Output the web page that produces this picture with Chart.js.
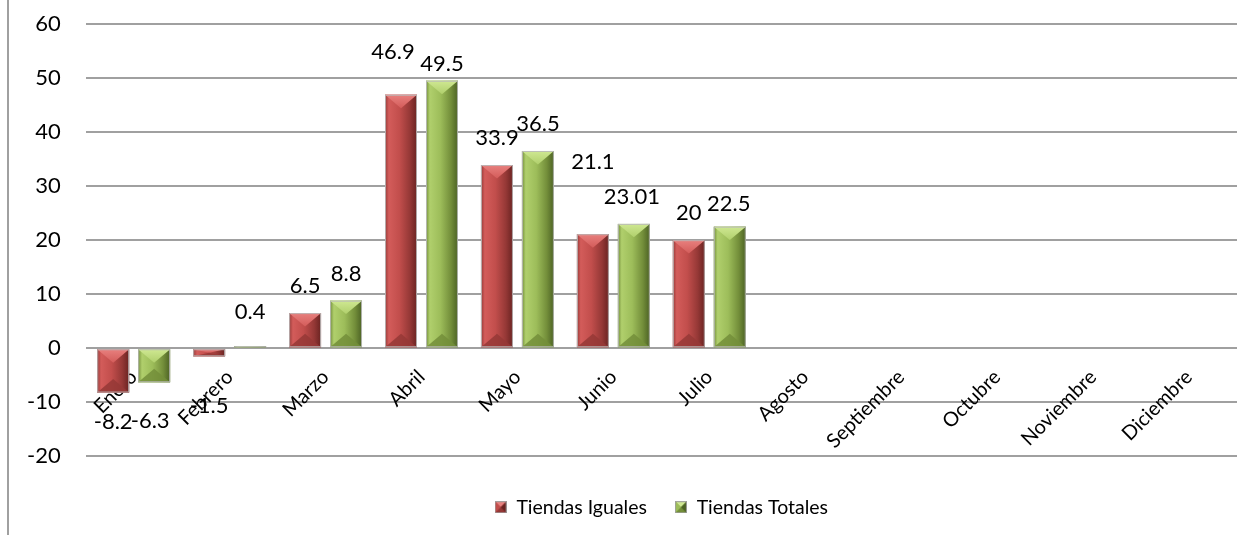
<!DOCTYPE html>
<html>
<head>
<meta charset="utf-8">
<script src="https://cdn.jsdelivr.net/npm/chart.js@4.4.1/dist/chart.umd.min.js"></script>
<style>
  html, body { margin: 0; padding: 0; background: #ffffff; }
  #wrap { position: relative; width: 1237px; height: 535px; }
</style>
</head>
<body>
<div id="wrap"><canvas id="chart"></canvas></div>
<script>
// Monthly growth (%) — same stores vs. total stores
const months = ['Enero', 'Febrero', 'Marzo', 'Abril', 'Mayo', 'Junio', 'Julio',
                'Agosto', 'Septiembre', 'Octubre', 'Noviembre', 'Diciembre'];
const tiendasIguales = [-8.2, -1.5, 6.5, 46.9, 33.9, 21.1, 20, null, null, null, null, null];
const tiendasTotales = [-6.3, 0.4, 8.8, 49.5, 36.5, 23.01, 22.5, null, null, null, null, null];
const yMin = -20;
const yMax = 60;
const yStep = 10;

const FONT = 'Lato, "Open Sans", sans-serif';

// Palette for the bevelled bars
const RED = { face: '#c24e4c', light: '#e8807e', mid: '#d35c5a', dark: '#6a2321', edge: '#953836' };
const GREEN = { face: '#9dbd5a', light: '#cfe892', mid: '#b0cf6c', dark: '#4c6224', edge: '#738e3a' };

function bevelRect(ctx, l, t, r, b, pal) {
  const w = r - l, h = b - t;
  if (w <= 0 || h <= 0) return;
  const cx = (l + r) / 2;
  // face: light on the left, darkening towards the right edge
  const g = ctx.createLinearGradient(l, 0, r, 0);
  g.addColorStop(0, pal.edge);
  g.addColorStop(0.12, pal.mid);
  g.addColorStop(0.45, pal.face);
  g.addColorStop(0.78, pal.edge);
  g.addColorStop(1, pal.dark);
  ctx.fillStyle = g;
  ctx.fillRect(l, t, w, h);
  const d = Math.min(w * 0.42, h / 2);
  // top facet
  ctx.beginPath();
  ctx.moveTo(l, t); ctx.lineTo(r, t); ctx.lineTo(cx, t + d); ctx.closePath();
  const gt = ctx.createLinearGradient(0, t, 0, t + d);
  gt.addColorStop(0, pal.light);
  gt.addColorStop(1, pal.mid);
  ctx.fillStyle = gt;
  ctx.fill();
  // bottom facet
  ctx.beginPath();
  ctx.moveTo(l, b); ctx.lineTo(r, b); ctx.lineTo(cx, b - d); ctx.closePath();
  ctx.fillStyle = pal.edge;
  ctx.globalAlpha = 0.85;
  ctx.fill();
  ctx.globalAlpha = 1;
  // thin light outline
  ctx.strokeStyle = 'rgba(185,185,185,0.9)';
  ctx.lineWidth = 1;
  ctx.strokeRect(l + 0.5, t + 0.5, w - 1, h - 1);
}

function legendIcon(pal) {
  const c = document.createElement('canvas');
  c.width = 12; c.height = 12;
  const x = c.getContext('2d');
  x.fillStyle = pal.edge;
  x.fillRect(0, 0, 12, 12);
  x.beginPath(); x.moveTo(0, 0); x.lineTo(12, 0); x.lineTo(6, 6); x.closePath();
  x.fillStyle = pal.light; x.fill();
  x.beginPath(); x.moveTo(12, 0); x.lineTo(12, 12); x.lineTo(6, 6); x.closePath();
  x.fillStyle = pal.dark; x.fill();
  x.beginPath(); x.moveTo(0, 0); x.lineTo(0, 12); x.lineTo(6, 6); x.closePath();
  x.fillStyle = pal.face; x.fill();
  x.strokeStyle = 'rgba(160,160,160,0.9)';
  x.strokeRect(0.5, 0.5, 11, 11);
  return c;
}

// Replaces the flat bar fill with a bevelled look
const bevelBars = {
  id: 'bevelBars',
  afterDatasetDraw(chart, args) {
    const pal = args.index === 0 ? RED : GREEN;
    const ctx = chart.ctx;
    ctx.save();
    args.meta.data.forEach((bar, i) => {
      if (chart.data.datasets[args.index].data[i] == null) return;
      const p = bar.getProps(['x', 'y', 'base', 'width'], true);
      const l = p.x - p.width / 2, r = p.x + p.width / 2;
      const t = Math.min(p.y, p.base), b = Math.max(p.y, p.base);
      bevelRect(ctx, l, t, r, b, pal);
    });
    ctx.restore();
  }
};

// Value labels above (or below, for negatives) each bar
const valueLabels = {
  id: 'valueLabels',
  afterDatasetsDraw(chart, args, opts) {
    const ctx = chart.ctx;
    ctx.save();
    ctx.font = opts.size + 'px ' + FONT;
    ctx.fillStyle = '#000';
    ctx.textAlign = 'center';
    ctx.textBaseline = 'middle';
    chart.data.datasets.forEach((ds, di) => {
      chart.getDatasetMeta(di).data.forEach((bar, i) => {
        const v = ds.data[i];
        if (v == null) return;
        const p = bar.getProps(['x', 'y', 'base'], true);
        const n = opts.nudges[di + ':' + i] || [0, 0];
        const ly = v >= 0 ? Math.min(p.y, p.base) - opts.above : Math.max(p.y, p.base) + opts.below;
        ctx.fillText(String(v), p.x + n[0], ly + n[1]);
      });
    });
    ctx.restore();
  }
};

// Left frame edge
const frameEdge = {
  id: 'frameEdge',
  beforeDraw(chart) {
    const ctx = chart.ctx;
    ctx.save();
    ctx.strokeStyle = '#a0a0a0';
    ctx.lineWidth = 2;
    ctx.beginPath();
    ctx.moveTo(8, 0);
    ctx.lineTo(8, chart.height);
    ctx.stroke();
    ctx.restore();
  }
};

const icons = [legendIcon(RED), legendIcon(GREEN)];

new Chart(document.getElementById('chart'), {
  type: 'bar',
  data: {
    labels: months,
    datasets: [
      { label: 'Tiendas Iguales', data: tiendasIguales, backgroundColor: RED.face,
        categoryPercentage: 0.854, barPercentage: 0.78 },
      { label: 'Tiendas Totales', data: tiendasTotales, backgroundColor: GREEN.face,
        categoryPercentage: 0.854, barPercentage: 0.78 }
    ]
  },
  options: {
    responsive: true,
    maintainAspectRatio: false,
    animation: false,
    layout: { padding: { left: 2, right: 0, top: 24, bottom: 8 } },
    scales: {
      x: {
        position: { y: 0 },
        z: 1,
        grid: { display: false },
        border: { display: false },
        ticks: {
          autoSkip: false, minRotation: 45, maxRotation: 45,
          color: '#000', padding: 9,
          font: { family: FONT, size: 20 }
        }
      },
      y: {
        min: yMin, max: yMax,
        grid: { color: '#a0a0a0', lineWidth: 2, drawTicks: false },
        border: { display: false },
        afterFit(scale) {
          // tick labels may overhang the plot edges
          scale.paddingTop = 0;
          scale.paddingBottom = 0;
        },
        ticks: {
          stepSize: yStep, color: '#000', padding: 25,
          font: { family: FONT, size: 22 }
        }
      }
    },
    plugins: {
      tooltip: { enabled: false },
      legend: {
        position: 'bottom',
        fullSize: false,
        title: { display: true, text: '', font: { size: 1 }, padding: { top: 12, bottom: 0 } },
        labels: {
          color: '#000',
          font: { family: FONT, size: 19.5 },
          usePointStyle: true,
          boxWidth: 12,
          padding: 28,
          generateLabels(chart) {
            return chart.data.datasets.map((ds, i) => ({
              text: ds.label, pointStyle: icons[i], datasetIndex: i,
              fillStyle: ds.backgroundColor, strokeStyle: ds.backgroundColor,
              lineWidth: 0, hidden: false, fontColor: '#000'
            }));
          }
        }
      },
      valueLabels: {
        size: 22, above: 27, below: 29,
        nudges: { '0:3': [-8, -16], '1:3': [0, 10], '0:5': [0, -45], '1:1': [0, -7],
                  '1:0': [-4, 10], '0:1': [0, 21], '1:5': [-2, 0], '1:6': [-1, 4] }
      }
    }
  },
  plugins: [frameEdge, bevelBars, valueLabels]
});
</script>
</body>
</html>
